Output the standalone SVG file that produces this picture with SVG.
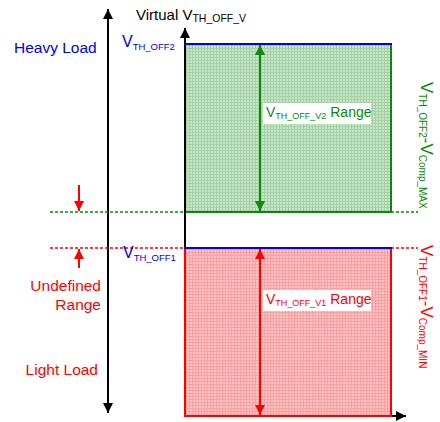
<svg xmlns="http://www.w3.org/2000/svg" width="440" height="422" viewBox="0 0 440 422">
<style>
text{font-family:"Liberation Sans",Arial,sans-serif}
.ax{stroke:#000;stroke-width:2;fill:none}
.g{fill:#0a8a0a}.r{fill:#ff0000}.b{fill:#0000ee}.k{fill:#000}
.big{font-size:15.5px}
.sub{font-size:10px}
</style>
<defs>
<pattern id="pg" width="3" height="3" patternUnits="userSpaceOnUse">
<rect width="3" height="3" fill="#c6e4c6"/>
<path d="M0 0.5H3M0.5 0V3" stroke="#a6d0a6" stroke-width="1"/>
</pattern>
<pattern id="pr" width="3" height="3" patternUnits="userSpaceOnUse">
<rect width="3" height="3" fill="#ffc4c4"/>
<path d="M0 0.5H3M0.5 0V3" stroke="#ff9e9e" stroke-width="1"/>
</pattern>
<marker id="ak" viewBox="0 0 10 10" refX="10" refY="5" markerWidth="5" markerHeight="5" orient="auto-start-reverse" markerUnits="strokeWidth"><path d="M0 0L10 5L0 10z" fill="#000"/></marker>
<marker id="ag" viewBox="0 0 10 10" refX="10" refY="5" markerWidth="5" markerHeight="5" orient="auto-start-reverse" markerUnits="strokeWidth"><path d="M0 0L10 5L0 10z" fill="#0a8a0a"/></marker>
<marker id="ar" viewBox="0 0 10 10" refX="10" refY="5" markerWidth="5" markerHeight="5" orient="auto-start-reverse" markerUnits="strokeWidth"><path d="M0 0L10 5L0 10z" fill="#ff0000"/></marker>
</defs>

<g id="green-region">
<rect x="185" y="44" width="206" height="168" fill="url(#pg)"/>
<path d="M391 44V212H185" stroke="#0a8a0a" stroke-width="2" fill="none"/>
</g>

<g id="connectors">
<line x1="108" y1="9" x2="108" y2="413" class="ax" marker-start="url(#ak)" marker-end="url(#ak)"/>
<line x1="185" y1="417" x2="185" y2="28" class="ax" marker-end="url(#ak)"/>
<line x1="185" y1="416" x2="406" y2="416" class="ax" marker-end="url(#ak)"/>
<line x1="50" y1="212" x2="185" y2="212" stroke="#0a8a0a" stroke-width="1.5" stroke-dasharray="3,2"/>
<line x1="391" y1="212" x2="418" y2="212" stroke="#0a8a0a" stroke-width="1.5" stroke-dasharray="3,2"/>
<line x1="50" y1="248" x2="185" y2="248" stroke="#ff0000" stroke-width="1.5" stroke-dasharray="3,2"/>
<line x1="391" y1="248" x2="418" y2="248" stroke="#ff0000" stroke-width="1.5" stroke-dasharray="3,2"/>
<line x1="79" y1="185" x2="79" y2="211" stroke="#ff0000" stroke-width="2" marker-end="url(#ar)"/>
<line x1="79" y1="268" x2="79" y2="249" stroke="#ff0000" stroke-width="2" marker-end="url(#ar)"/>
</g>

<g id="red-region">
<rect x="185" y="248" width="206" height="168" fill="url(#pr)"/>
<path d="M185 248V416H391V248" stroke="#ff0000" stroke-width="2" fill="none"/>
</g>

<g id="threshold-lines">
<line x1="184" y1="44" x2="392" y2="44" stroke="#0000ee" stroke-width="2"/>
<line x1="184" y1="248" x2="392" y2="248" stroke="#0000ee" stroke-width="2"/>
</g>

<g id="range-arrows">
<line x1="260" y1="45" x2="260" y2="211" stroke="#0a8a0a" stroke-width="2" marker-start="url(#ag)" marker-end="url(#ag)"/>
<line x1="260" y1="249" x2="260" y2="415" stroke="#ff0000" stroke-width="2" marker-start="url(#ar)" marker-end="url(#ar)"/>
</g>

<g id="v2-range-label">
<rect x="263" y="103" width="108" height="21" fill="#fff"/>
<text x="266" y="117" class="g" font-size="14">V<tspan font-size="9" dy="2">TH_OFF_V2</tspan><tspan dy="-2"> Range</tspan></text>
</g>
<g id="v1-range-label">
<rect x="263" y="290" width="108" height="21" fill="#fff"/>
<text x="266" y="304" class="r" font-size="14">V<tspan font-size="9" dy="2">TH_OFF_V1</tspan><tspan dy="-2"> Range</tspan></text>
</g>

<g id="axis-title">
<text x="136" y="20" class="k" font-size="15">Virtual V<tspan font-size="10.5" dy="2">TH_OFF_V</tspan></text>
</g>
<g id="vth-off2-label">
<text x="122" y="47" class="b" font-size="16">V<tspan font-size="9.5" dy="3">TH_OFF2</tspan></text>
</g>
<g id="vth-off1-label">
<text x="123" y="258" class="b" font-size="16">V<tspan font-size="9.5" dy="3">TH_OFF1</tspan></text>
</g>

<g id="heavy-load"><text x="14" y="53" class="b big">Heavy Load</text></g>
<g id="light-load"><text x="98" y="375" text-anchor="end" class="r big">Light Load</text></g>
<g id="undefined-range"><text x="101" y="291" text-anchor="end" class="r big">Undefined</text><text x="101" y="310" text-anchor="end" class="r big">Range</text></g>

<g id="max-label">
<text transform="translate(421,82) rotate(90)" class="g" font-size="17">V<tspan font-size="10" dy="2">TH_OFF2</tspan><tspan dy="-2">-V</tspan><tspan font-size="10" dy="2">Comp_MAX</tspan></text>
</g>
<g id="min-label">
<text transform="translate(421,245) rotate(90)" class="r" font-size="17">V<tspan font-size="10" dy="2">TH_OFF1</tspan><tspan dy="-2">-V</tspan><tspan font-size="10" dy="2">Comp_MIN</tspan></text>
</g>
</svg>
